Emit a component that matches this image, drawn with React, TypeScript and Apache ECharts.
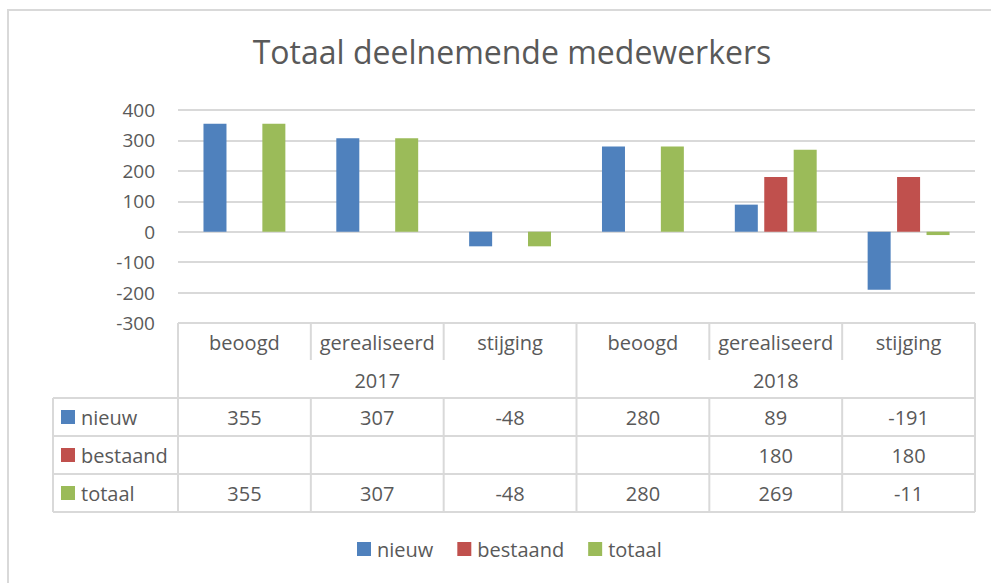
import React, { useEffect, useRef } from "react";
import * as echarts from "echarts";

const categories = ["beoogd", "gerealiseerd", "stijging", "beoogd", "gerealiseerd", "stijging"];
const years = ["2017", "2018"];
const seriesNames = ["nieuw", "bestaand", "totaal"];
const nieuw: (number | null)[] = [355, 307, -48, 280, 89, -191];
const bestaand: (number | null)[] = [null, null, null, null, 180, 180];
const totaal: (number | null)[] = [355, 307, -48, 280, 269, -11];
const colors = ["#4F81BD", "#C0504D", "#9BBB59"];
const yTicks = { min: -300, max: 400, interval: 100 };

const FONT = "'Open Sans', 'Noto Sans', sans-serif";
const TXT = "#595959";
const LINE = "#D9D9D9";

export default function App() {
  const ref = useRef<HTMLDivElement>(null);
  useEffect(() => {
    if (!ref.current) return;
    const chart = echarts.init(ref.current, null, { renderer: "svg" });
    const gl = 178, gr = 975, gt = 110, gb = 323;
    const colW = (gr - gl) / categories.length;
    const tableLeft = 53;
    const rowCat = [323, 360];
    const rowYear = [360, 398];
    const rowY = [398, 436, 474, 512];
    const values = [nieuw, bestaand, totaal];

    const g: any[] = [];
    const ln = (x1: number, y1: number, x2: number, y2: number) =>
      g.push({ type: "line", shape: { x1, y1, x2, y2 }, style: { stroke: LINE, lineWidth: 2 }, silent: true });
    const tx = (x: number, y: number, text: string, align = "center") =>
      g.push({ type: "text", x, y, style: { text, fill: TXT, font: `20px ${FONT}`, align, verticalAlign: "middle" }, silent: true });

    // outer frame
    g.push({ type: "rect", shape: { x: 8, y: 10, width: 1000, height: 600 }, style: { fill: "none", stroke: LINE, lineWidth: 2 }, silent: true });

    // horizontal lines
    ln(gl, rowCat[0], gr, rowCat[0]);
    rowY.forEach((y) => ln(tableLeft, y, gr, y));
    // vertical lines
    for (let i = 0; i <= categories.length; i++) {
      const x = gl + colW * i;
      const full = i % 3 === 0;
      if (full) ln(x, rowCat[0], x, rowY[3]);
      else {
        ln(x, rowCat[0], x, rowCat[1]);
        ln(x, rowY[0], x, rowY[3]);
      }
    }
    ln(tableLeft, rowY[0], tableLeft, rowY[3]);

    categories.forEach((c, i) => tx(gl + colW * (i + 0.5), (rowCat[0] + rowCat[1]) / 2 + 1, c));
    years.forEach((y, i) => tx(gl + colW * (i * 3 + 1.5), (rowYear[0] + rowYear[1]) / 2 + 1, y));
    seriesNames.forEach((n, r) => {
      const cy = (rowY[r] + rowY[r + 1]) / 2;
      g.push({ type: "rect", shape: { x: 61, y: cy - 7, width: 14, height: 14 }, style: { fill: colors[r] }, silent: true });
      tx(81, cy, n, "left");
      values[r].forEach((v, i) => {
        if (v !== null) tx(gl + colW * (i + 0.5), cy, String(v));
      });
    });

    chart.setOption({
      animation: false,
      title: {
        text: "Totaal deelnemende medewerkers",
        left: 507,
        top: 30,
        textAlign: "center",
        textStyle: { fontFamily: FONT, fontSize: 32, fontWeight: 400, color: TXT },
      },
      legend: {
        data: seriesNames,
        left: 357,
        top: 539,
        padding: 0,
        icon: "rect",
        itemWidth: 14,
        itemHeight: 14,
        itemGap: 24,
        textStyle: { fontFamily: FONT, fontSize: 20, color: TXT, padding: [0, 0, 0, 1] },
      },
      grid: { left: gl, right: 991 - gr, top: gt, bottom: 583 - gb, containLabel: false },
      xAxis: {
        type: "category",
        data: categories,
        axisLine: { show: false },
        axisTick: { show: false },
        axisLabel: { show: false },
      },
      yAxis: {
        type: "value",
        min: yTicks.min,
        max: yTicks.max,
        interval: yTicks.interval,
        axisLine: { show: false },
        axisTick: { show: false },
        axisLabel: { fontFamily: FONT, fontSize: 19, color: TXT, margin: 23 },
        splitLine: { lineStyle: { color: LINE, width: 2 } },
      },
      series: seriesNames.map((n, i) => ({
        name: n,
        type: "bar",
        data: values[i],
        barWidth: 23,
        barGap: "28%",
        itemStyle: { color: colors[i] },
      })),
      graphic: g,
    });
    return () => chart.dispose();
  }, []);
  return <div ref={ref} style={{ width: 991, height: 583, position: "absolute", left: 0, top: 0, background: "#fff" }} />;
}
